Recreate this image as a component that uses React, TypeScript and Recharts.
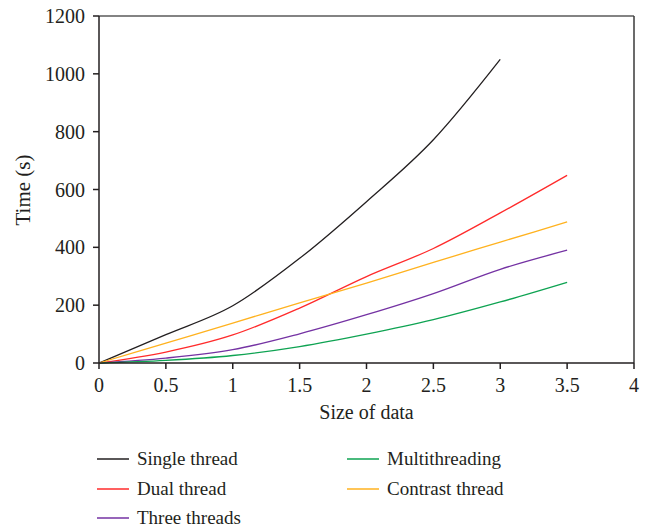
import React from 'react';
import { LineChart, Line, XAxis, YAxis, ReferenceLine } from 'recharts';

const xValues = [0, 0.5, 1, 1.5, 2, 2.5, 3, 3.5];
const singleThread = [0, 98, 198, 362, 558, 772, 1050];
const dualThread = [0, 38, 97, 190, 299, 396, 519, 649];
const threeThreads = [0, 17, 46, 101, 167, 240, 324, 390];
const multithreading = [0, 9, 26, 57, 100, 150, 211, 279];
const contrastThread = [0, 69, 138, 208, 276, 348, 418, 488];

const xTicks = [0, 0.5, 1, 1.5, 2, 2.5, 3, 3.5, 4];
const yTicks = [0, 200, 400, 600, 800, 1000, 1200];

const seriesInfo = [
  { key: 'single', name: 'Single thread', color: '#231f20' },
  { key: 'dual', name: 'Dual thread', color: '#ff2b2b' },
  { key: 'three', name: 'Three threads', color: '#7432a3' },
  { key: 'multi', name: 'Multithreading', color: '#0ea352' },
  { key: 'contrast', name: 'Contrast thread', color: '#ffb21f' },
];

const data = xValues.map((x, i) => ({
  x,
  single: singleThread[i],
  dual: dualThread[i],
  three: threeThreads[i],
  multi: multithreading[i],
  contrast: contrastThread[i],
}));

const FONT = "'Liberation Serif', 'Times New Roman', Tinos, 'DejaVu Serif', 'Noto Serif', Times, serif";
const TEXT = '#231f20';

const legendLayout = [
  { key: 'single', left: 97, top: 459 },
  { key: 'dual', left: 97, top: 489 },
  { key: 'three', left: 97, top: 518 },
  { key: 'multi', left: 347, top: 459 },
  { key: 'contrast', left: 347, top: 489 },
];

export default function App() {
  return (
    <div style={{ position: 'absolute', left: 0, top: 0, width: 647, height: 531, background: '#fff', fontFamily: FONT }}>
      <LineChart width={647} height={440} data={data} margin={{ top: 16, right: 13, bottom: 0, left: 0 }} style={{ fontFamily: FONT }}>
        <XAxis
          dataKey="x"
          type="number"
          domain={[0, 4]}
          ticks={xTicks}
          height={77}
          tickSize={6}
          tickMargin={9}
          stroke={TEXT}
          strokeWidth={1.5}
          tick={{ fill: TEXT, fontSize: 20, fontFamily: FONT }}
          label={{ value: 'Size of data', position: 'insideBottom', offset: 21, fill: TEXT, fontSize: 20, fontFamily: FONT }}
        />
        <YAxis
          type="number"
          domain={[0, 1200]}
          ticks={yTicks}
          width={99}
          tickSize={6}
          tickMargin={8}
          stroke={TEXT}
          strokeWidth={1.5}
          tick={{ fill: TEXT, fontSize: 20, fontFamily: FONT }}
          label={{
            content: () => (
              <text
                x={23}
                y={190}
                transform="rotate(-90 23 190)"
                textAnchor="middle"
                dominantBaseline="central"
                fill={TEXT}
                fontSize={21}
                style={{ fontFamily: FONT }}
              >
                Time (s)
              </text>
            ),
          }}
        />
        <ReferenceLine y={1200} stroke="#5a5a5a" strokeWidth={1.5} />
        <ReferenceLine x={4} stroke="#3a3a3a" strokeWidth={1.5} />
        {seriesInfo.map((s) => (
          <Line
            key={s.key}
            dataKey={s.key}
            name={s.name}
            type="monotone"
            stroke={s.color}
            strokeWidth={1.3}
            dot={false}
            activeDot={false}
            isAnimationActive={false}
          />
        ))}
      </LineChart>
      {legendLayout.map((l) => {
        const s = seriesInfo.find((q) => q.key === l.key)!;
        return (
          <div key={l.key} style={{ position: 'absolute', left: l.left, top: l.top - 12, height: 24, display: 'flex', alignItems: 'center', whiteSpace: 'nowrap' }}>
            <svg width={32} height={4} style={{ display: 'block' }}>
              <line x1={0} y1={2} x2={32} y2={2} stroke={s.color} strokeWidth={1.5} />
            </svg>
            <span style={{ marginLeft: 8, fontSize: 19, color: TEXT, fontFamily: FONT, lineHeight: '24px' }}>{s.name}</span>
          </div>
        );
      })}
    </div>
  );
}
